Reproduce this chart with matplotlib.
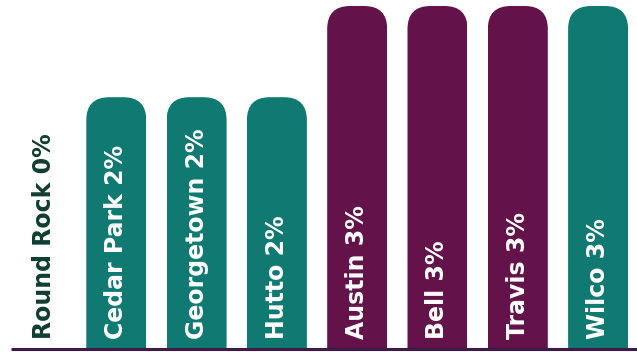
import matplotlib.pyplot as plt
from matplotlib.patches import FancyBboxPatch

cities = ["Round Rock", "Cedar Park", "Georgetown", "Hutto", "Austin", "Bell", "Travis", "Wilco"]
rates = [0.0, 2.2, 2.2, 2.2, 3.0, 3.0, 3.0, 3.0]
colors = ["#107a72", "#107a72", "#107a72", "#107a72", "#63124a", "#63124a", "#63124a", "#107a72"]

W, H = 637, 352
fig = plt.figure(figsize=(W / 100, H / 100), dpi=100)
ax = fig.add_axes([0, 0, 1, 1])

# pixel layout: bar centres at 36 + 80.3*i, baseline at y=348, 3.0 -> top at y=6
step = 80.3
x0 = -36 / step
x1 = (W - 36) / step
base_px = 348
top_px = 6
ymax_val = 3.0
per_px = ymax_val / (base_px - top_px)
ymin = -(H - base_px) * per_px
ymax = ymax_val + top_px * per_px
ax.set_xlim(x0, x1)
ax.set_ylim(ymin, ymax)
ax.axis("off")

bar_w = 60 / step
radius_px = 23
x_per_px = 1 / step
aspect = per_px / x_per_px

for i, (name, v, c) in enumerate(zip(cities, rates, colors)):
    if v > 0:
        # rounded box that runs below the baseline, clipped so only top corners show
        p = FancyBboxPatch((i - bar_w / 2, -1.0), bar_w, v + 1.0,
                           boxstyle=f"round,pad=0,rounding_size={radius_px * x_per_px}",
                           mutation_aspect=aspect, facecolor=c, edgecolor="none")
        ax.add_patch(p)
        clip = plt.Rectangle((i - bar_w / 2, 0), bar_w, v + 1, transform=ax.transData)
        p.set_clip_path(clip)
        tc = "white"
        dx = 0
    else:
        tc = "#0f3d30"
        dx = 8 * x_per_px
    ax.text(i + dx, 9 * per_px, f"{name} {v:.0f}%", rotation=90, rotation_mode="anchor",
            ha="left", va="center", color=tc, fontsize=17, fontweight="bold",
            family="DejaVu Sans")

ax.plot([11 * x_per_px + x0, x1], [-1 * per_px, -1 * per_px], color="#3d1a48",
        linewidth=2.2, solid_capstyle="butt")

fig.savefig("out.png", dpi=100)
